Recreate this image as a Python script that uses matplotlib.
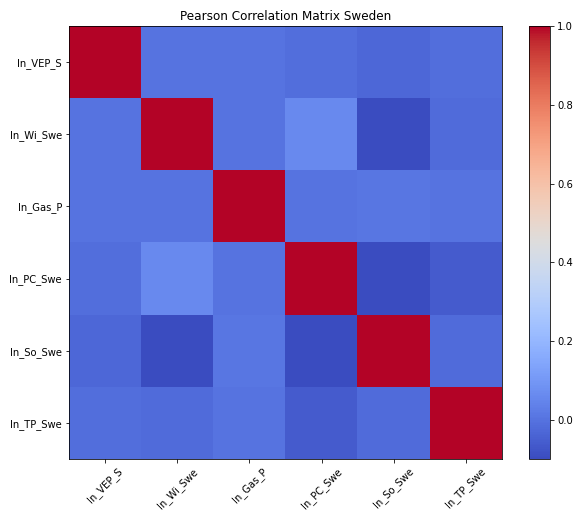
import matplotlib
matplotlib.use('Agg')
import matplotlib.pyplot as plt
import numpy as np

labels = ['ln_VEP_S', 'ln_Wi_Swe', 'ln_Gas_P', 'ln_PC_Swe', 'ln_So_Swe', 'ln_TP_Swe']

# correlation rows
row_vep = [1.00, 0.00, 0.00, -0.01, -0.03, -0.01]
row_wi = [0.00, 1.00, 0.00, 0.06, -0.099, -0.02]
row_gas = [0.00, 0.00, 1.00, 0.00, 0.01, 0.00]
row_pc = [-0.01, 0.06, 0.00, 1.00, -0.095, -0.06]
row_so = [-0.03, -0.099, 0.01, -0.095, 1.00, -0.02]
row_tp = [-0.01, -0.02, 0.00, -0.06, -0.02, 1.00]

corr = np.array([row_vep, row_wi, row_gas, row_pc, row_so, row_tp])

# the reference looks like a scaled-down render, so shrink text and ticks
s = 0.72
plt.rcParams.update({
    'font.size': 10 * s,
    'axes.linewidth': 0.8 * s,
    'axes.titlepad': 6 * s,
    'xtick.major.size': 3.5 * s,
    'ytick.major.size': 3.5 * s,
    'xtick.major.width': 0.8 * s,
    'ytick.major.width': 0.8 * s,
    'xtick.major.pad': 3.5 * s,
    'ytick.major.pad': 3.5 * s,
})

fig = plt.figure(figsize=(5.78, 5.14), dpi=100)
ax = fig.add_axes([69/578, 55/514, 433/578, 433/514])
cax = fig.add_axes([529/578, 55/514, 21/578, 433/514])

im = ax.imshow(corr, cmap='coolwarm')
fig.colorbar(im, cax=cax)

ax.set_xticks(np.arange(len(labels)))
ax.set_xticklabels(labels, rotation=45)
ax.set_yticks(np.arange(len(labels)))
ax.set_yticklabels(labels)
ax.set_title('Pearson Correlation Matrix Sweden')

fig.savefig('out.png', dpi=100)
